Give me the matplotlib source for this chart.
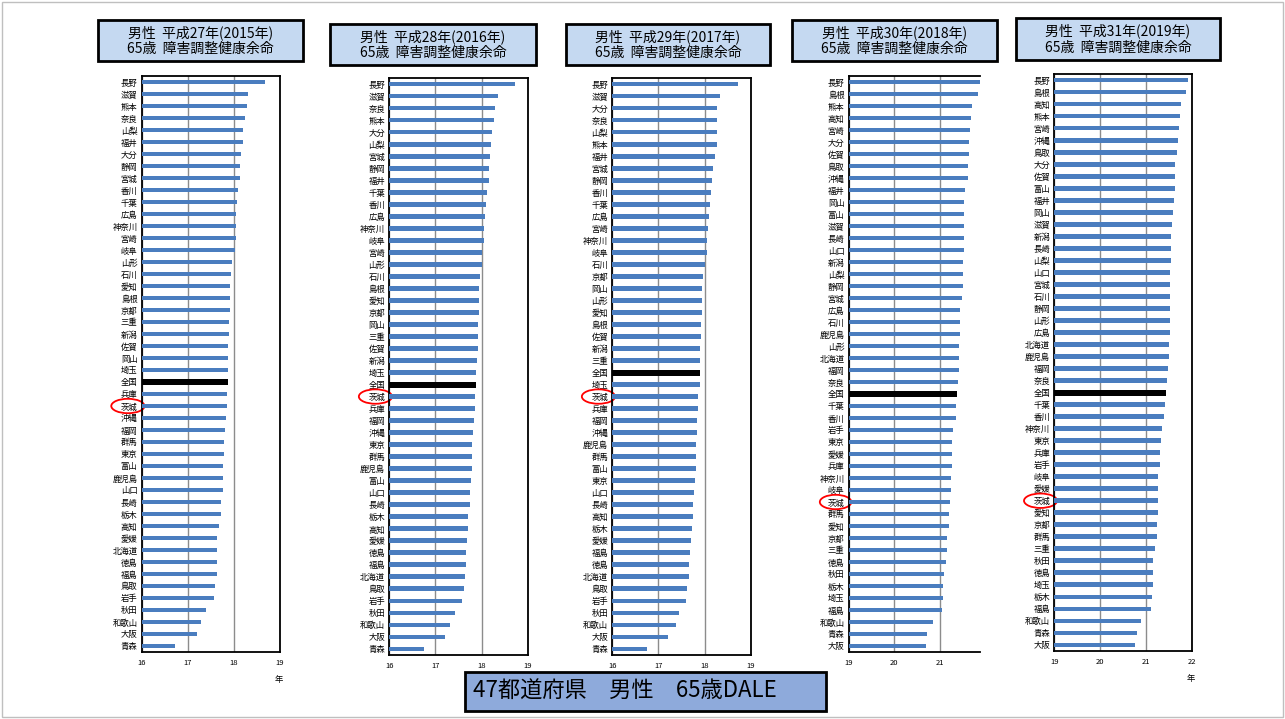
import numpy as np
import matplotlib.pyplot as plt
from matplotlib.patches import Ellipse, Rectangle
from matplotlib.transforms import blended_transform_factory

plt.rcParams['font.family'] = ['Noto Sans CJK JP', 'DejaVu Sans']

W, H = 1285, 719

# ---------- data: 65-year-old male DALE by prefecture (years) ----------
pref_2015 = ['長野', '滋賀', '熊本', '奈良', '山梨', '福井', '大分', '静岡', '宮城', '香川',
             '千葉', '広島', '神奈川', '宮崎', '岐阜', '山形', '石川', '愛知', '島根', '京都',
             '三重', '新潟', '佐賀', '岡山', '埼玉', '全国', '兵庫', '茨城', '沖縄', '福岡',
             '群馬', '東京', '富山', '鹿児島', '山口', '長崎', '栃木', '高知', '愛媛', '北海道',
             '徳島', '福島', '鳥取', '岩手', '秋田', '和歌山', '大阪', '青森']
dale_2015 = [18.68, 18.31, 18.28, 18.23, 18.19, 18.19, 18.15, 18.14, 18.14, 18.08,
             18.07, 18.04, 18.04, 18.04, 18.02, 17.95, 17.94, 17.92, 17.92, 17.92,
             17.89, 17.89, 17.88, 17.88, 17.87, 17.87, 17.84, 17.84, 17.82, 17.80,
             17.79, 17.78, 17.76, 17.76, 17.76, 17.71, 17.71, 17.68, 17.64, 17.63,
             17.63, 17.63, 17.58, 17.56, 17.40, 17.29, 17.19, 16.72]

pref_2016 = ['長野', '滋賀', '奈良', '熊本', '大分', '山梨', '宮城', '静岡', '福井', '千葉',
             '香川', '広島', '神奈川', '岐阜', '宮崎', '山形', '石川', '島根', '愛知', '京都',
             '岡山', '三重', '佐賀', '新潟', '埼玉', '全国', '茨城', '兵庫', '福岡', '沖縄',
             '東京', '群馬', '鹿児島', '富山', '山口', '長崎', '栃木', '高知', '愛媛', '徳島',
             '福島', '北海道', '鳥取', '岩手', '秋田', '和歌山', '大阪', '青森']
dale_2016 = [18.72, 18.35, 18.29, 18.28, 18.22, 18.21, 18.19, 18.17, 18.16, 18.12,
             18.10, 18.08, 18.05, 18.05, 18.02, 18.00, 17.96, 17.95, 17.95, 17.94,
             17.93, 17.93, 17.92, 17.91, 17.89, 17.88, 17.86, 17.86, 17.84, 17.82,
             17.80, 17.79, 17.79, 17.77, 17.75, 17.74, 17.71, 17.71, 17.68, 17.66,
             17.66, 17.65, 17.61, 17.58, 17.42, 17.32, 17.20, 16.75]

pref_2017 = ['長野', '滋賀', '大分', '奈良', '山梨', '熊本', '福井', '宮城', '静岡', '香川',
             '千葉', '広島', '宮崎', '神奈川', '岐阜', '石川', '京都', '岡山', '山形', '愛知',
             '島根', '佐賀', '新潟', '三重', '全国', '埼玉', '茨城', '兵庫', '福岡', '沖縄',
             '鹿児島', '群馬', '富山', '東京', '山口', '長崎', '高知', '栃木', '愛媛', '福島',
             '徳島', '北海道', '鳥取', '岩手', '秋田', '和歌山', '大阪', '青森']
dale_2017 = [18.73, 18.33, 18.28, 18.27, 18.27, 18.26, 18.23, 18.18, 18.17, 18.13,
             18.11, 18.09, 18.08, 18.06, 18.06, 18.02, 17.96, 17.95, 17.95, 17.95,
             17.93, 17.93, 17.91, 17.91, 17.90, 17.90, 17.86, 17.86, 17.84, 17.83,
             17.81, 17.81, 17.81, 17.79, 17.78, 17.76, 17.75, 17.72, 17.71, 17.68,
             17.66, 17.66, 17.63, 17.59, 17.44, 17.37, 17.21, 16.76]

pref_2018 = ['長野', '島根', '熊本', '高知', '宮崎', '大分', '佐賀', '鳥取', '沖縄', '福井',
             '岡山', '富山', '滋賀', '長崎', '山口', '新潟', '山梨', '静岡', '宮城', '広島',
             '石川', '鹿児島', '山形', '北海道', '福岡', '奈良', '全国', '千葉', '香川', '岩手',
             '東京', '愛媛', '兵庫', '神奈川', '岐阜', '茨城', '群馬', '愛知', '京都', '三重',
             '徳島', '秋田', '栃木', '埼玉', '福島', '和歌山', '青森', '大阪']
dale_2018 = [21.92, 21.82, 21.69, 21.67, 21.65, 21.63, 21.62, 21.61, 21.60, 21.55,
             21.52, 21.52, 21.51, 21.51, 21.51, 21.50, 21.49, 21.49, 21.48, 21.44,
             21.44, 21.43, 21.42, 21.42, 21.41, 21.39, 21.37, 21.34, 21.34, 21.28,
             21.26, 21.25, 21.25, 21.24, 21.23, 21.21, 21.20, 21.19, 21.15, 21.14,
             21.12, 21.09, 21.07, 21.07, 21.04, 20.84, 20.72, 20.69]

pref_2019 = ['長野', '島根', '高知', '熊本', '宮崎', '沖縄', '鳥取', '大分', '佐賀', '富山',
             '福井', '岡山', '滋賀', '新潟', '長崎', '山梨', '山口', '宮城', '石川', '静岡',
             '山形', '広島', '北海道', '鹿児島', '福岡', '奈良', '全国', '千葉', '香川', '神奈川',
             '東京', '兵庫', '岩手', '岐阜', '愛媛', '茨城', '愛知', '京都', '群馬', '三重',
             '秋田', '徳島', '埼玉', '栃木', '福島', '和歌山', '青森', '大阪']
dale_2019 = [21.91, 21.86, 21.75, 21.73, 21.72, 21.69, 21.67, 21.64, 21.64, 21.62,
             21.61, 21.59, 21.56, 21.55, 21.55, 21.54, 21.53, 21.53, 21.52, 21.51,
             21.51, 21.51, 21.50, 21.49, 21.47, 21.45, 21.43, 21.41, 21.38, 21.34,
             21.33, 21.31, 21.30, 21.27, 21.26, 21.26, 21.25, 21.23, 21.23, 21.20,
             21.16, 21.16, 21.16, 21.13, 21.11, 20.88, 20.80, 20.76]

titles = ['男性  平成27年(2015年)', '男性  平成28年(2016年)', '男性  平成29年(2017年)',
          '男性  平成30年(2018年)', '男性  平成31年(2019年)']
subtitle = '65歳  障害調整健康余命'
highlight = '茨城'

# (prefs, values, xlim, ticks, axes box px, title box px, right spine, 年 label)
panels = [
    (pref_2015, dale_2015, (16, 19), [16, 17, 18, 19], (141.7, 76, 280, 652), (98, 20, 303, 61), True, True),
    (pref_2016, dale_2016, (16, 19), [16, 17, 18, 19], (389.3, 78, 527.7, 655), (330, 24, 536, 65), True, False),
    (pref_2017, dale_2017, (16, 19), [16, 17, 18, 19], (612.3, 78, 750.7, 655), (566, 24, 770, 65), True, False),
    (pref_2018, dale_2018, (19, 21.87), [19, 20, 21], (848.7, 76, 980, 652), (792, 20, 997, 61), False, False),
    (pref_2019, dale_2019, (19, 22), [19, 20, 21, 22], (1054.3, 74, 1192, 651), (1016, 18, 1220, 60), True, True),
]


def px_rect(x0, y0, x1, y1):
    return [x0 / W, 1 - y1 / H, (x1 - x0) / W, (y1 - y0) / H]


fig = plt.figure(figsize=(W / 100, H / 100), dpi=100)

for (prefs, vals, xlim, ticks, box, tbox, right_spine, unit), title in zip(panels, titles):
    ax = fig.add_axes(px_rect(*box))
    y = np.arange(len(prefs))
    colors = ['black' if p == '全国' else '#4a7dbf' for p in prefs]
    heights = [0.5 if p == '全国' else 0.4 for p in prefs]
    ax.barh(y, np.array(vals) - xlim[0], left=xlim[0], height=heights, color=colors, zorder=3)

    ax.set_xlim(*xlim)
    ax.set_ylim(len(prefs) - 0.5, -0.5)
    ax.set_xticks(ticks)
    ax.set_xticklabels([str(t) for t in ticks], fontsize=5.5)
    ax.set_yticks(y)
    ax.set_yticklabels(prefs, fontsize=6)
    ax.tick_params(length=0, pad=3)
    ax.tick_params(axis='x', pad=5)
    ax.grid(axis='x', color='#8c8c8c', lw=1)
    ax.set_axisbelow(True)
    for side, sp in ax.spines.items():
        sp.set_linewidth(1.3)
        sp.set_color('black')
    ax.spines['right'].set_visible(right_spine)

    # red ring round the 茨城 label
    idx = prefs.index(highlight)
    trans = blended_transform_factory(ax.transAxes, ax.transData)
    ax.add_patch(Ellipse((-0.10, idx), width=0.24, height=1.2, transform=trans,
                         fill=False, ec='red', lw=1.3, clip_on=False))

    if unit:
        ax.text(0.99, -0.048, '年', transform=ax.transAxes, fontsize=6, ha='center', va='center')

    # title box
    r = px_rect(*tbox)
    fig.add_artist(Rectangle((r[0], r[1]), r[2], r[3], transform=fig.transFigure,
                             fc='#c5d9f1', ec='black', lw=2))
    fig.text(r[0] + r[2] / 2, r[1] + r[3] / 2, title + '\n' + subtitle,
             ha='center', va='center', fontsize=10, linespacing=1.2)

# bottom caption box
r = px_rect(465, 672, 826, 711)
fig.add_artist(Rectangle((r[0], r[1]), r[2], r[3], transform=fig.transFigure,
                         fc='#8eaadb', ec='black', lw=2))
fig.text(473 / W, r[1] + r[3] / 2, '47都道府県　男性　65歳DALE',
         ha='left', va='center', fontsize=16)

# slide frame
fig.add_artist(Rectangle((2 / W, 2 / H), (W - 4) / W, (H - 4) / H, transform=fig.transFigure,
                         fill=False, ec='#bfbfbf', lw=1))

fig.savefig('out.png', dpi=100)
